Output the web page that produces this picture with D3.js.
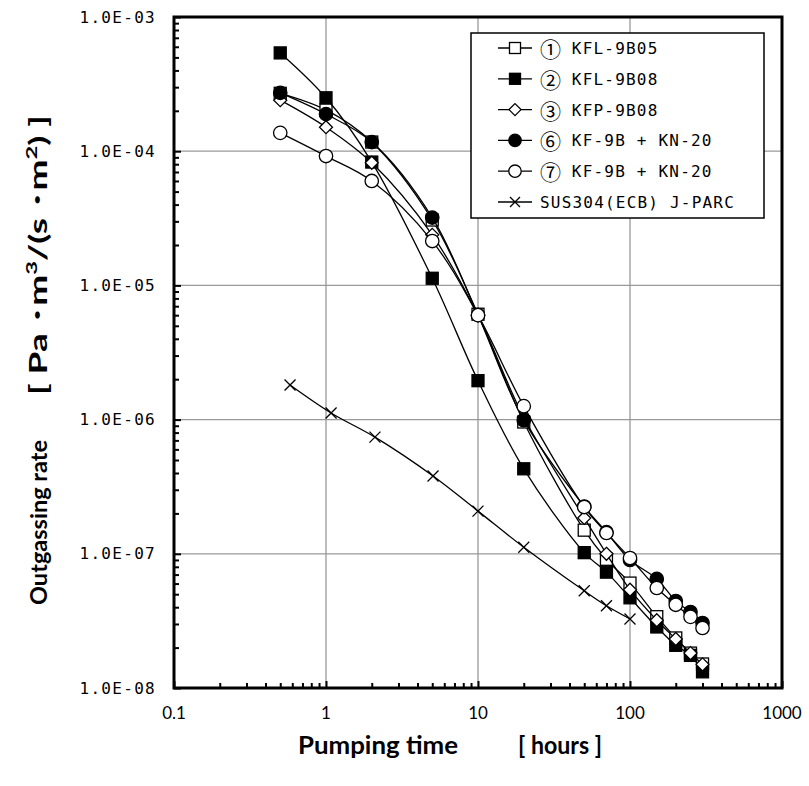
<!DOCTYPE html>
<html><head><meta charset="utf-8">
<script src="https://cdn.jsdelivr.net/npm/d3@7"></script>
<style>
body{margin:0;background:#fff;}
text{white-space:pre;}
</style></head>
<body>
<script>
const hours = [0.5, 1, 2, 5, 10, 20, 50, 70, 100, 150, 200, 250, 300];
const s1 = [2.7e-4, 2.03e-4, 1.17e-4, 3.07e-5, 6.1e-6, 9.6e-7, 1.5e-7, 9.1e-8, 6.05e-8, 3.4e-8, 2.36e-8, 1.82e-8, 1.51e-8];
const s2 = [5.4e-4, 2.5e-4, 8.3e-5, 1.13e-5, 1.95e-6, 4.3e-7, 1.02e-7, 7.3e-8, 4.7e-8, 2.85e-8, 2.08e-8, 1.75e-8, 1.32e-8];
const s3 = [2.4e-4, 1.51e-4, 8.2e-5, 2.38e-5, 6.0e-6, 1.04e-6, 1.85e-7, 1.0e-7, 5.4e-8, 3.2e-8, 2.32e-8, 1.82e-8, 1.5e-8];
const s6 = [2.72e-4, 1.89e-4, 1.17e-4, 3.2e-5, 6.0e-6, 9.9e-7, 2.25e-7, 1.45e-7, 9.0e-8, 6.5e-8, 4.45e-8, 3.68e-8, 3.05e-8];
const s7 = [1.37e-4, 9.2e-5, 6.0e-5, 2.14e-5, 6.0e-6, 1.26e-6, 2.23e-7, 1.43e-7, 9.3e-8, 5.56e-8, 4.17e-8, 3.39e-8, 2.8e-8];
const susHours = [0.58, 1.08, 2.1, 5.06, 10, 20, 50, 70, 100];
const susRate = [1.81e-6, 1.12e-6, 7.4e-7, 3.8e-7, 2.08e-7, 1.12e-7, 5.3e-8, 4.1e-8, 3.27e-8];
const seriesNums = ["①", "②", "③", "⑥", "⑦", ""];
const seriesNames = ["KFL-9B05", "KFL-9B08", "KFP-9B08", "KF-9B + KN-20", "KF-9B + KN-20", "SUS304(ECB) J-PARC"];
const seriesMarkers = ["squareOpen", "squareFilled", "diamondOpen", "circleFilled", "circleOpen", "cross"];
const xTicks = [0.1, 1, 10, 100, 1000];
const xTickLabels = ["0.1", "1", "10", "100", "1000"];
const yTicks = [1e-3, 1e-4, 1e-5, 1e-6, 1e-7, 1e-8];
const yTickLabels = ["1.0E-03", "1.0E-04", "1.0E-05", "1.0E-06", "1.0E-07", "1.0E-08"];

const series = [
  {num: seriesNums[0], name: seriesNames[0], marker: seriesMarkers[0], xs: hours, ys: s1},
  {num: seriesNums[1], name: seriesNames[1], marker: seriesMarkers[1], xs: hours, ys: s2},
  {num: seriesNums[2], name: seriesNames[2], marker: seriesMarkers[2], xs: hours, ys: s3},
  {num: seriesNums[3], name: seriesNames[3], marker: seriesMarkers[3], xs: hours, ys: s6},
  {num: seriesNums[4], name: seriesNames[4], marker: seriesMarkers[4], xs: hours, ys: s7},
  {num: seriesNums[5], name: seriesNames[5], marker: seriesMarkers[5], xs: susHours, ys: susRate}
];

const W = 809, H = 786;
const L = 174, R = 782, T = 17, B = 688;
const svg = d3.select("body").append("svg").attr("width", W).attr("height", H);
const x = d3.scaleLog().domain([0.1, 1000]).range([L, R]);
const y = d3.scaleLog().domain([1e-8, 1e-3]).range([B, T]);

// gridlines
const g = svg.append("g");
g.selectAll("line.vg").data(xTicks.slice(1, -1)).join("line")
  .attr("x1", d => x(d)).attr("x2", d => x(d)).attr("y1", T).attr("y2", B)
  .attr("stroke", "#999").attr("stroke-width", 1.3);
g.selectAll("line.hg").data(yTicks.slice(1, -1)).join("line")
  .attr("x1", L).attr("x2", R).attr("y1", d => y(d)).attr("y2", d => y(d))
  .attr("stroke", "#999").attr("stroke-width", 1.3);

// minor ticks (inside)
const xMinor = [];
for (let e = -1; e < 3; e++) for (let m = 2; m <= 9; m++) xMinor.push(m * Math.pow(10, e));
const yMinor = [];
for (let e = -8; e < -3; e++) for (let m = 2; m <= 9; m++) yMinor.push(m * Math.pow(10, e));
function styleAxis(a) {
  a.select(".domain").remove();
  a.selectAll("line").attr("stroke", "#000").attr("stroke-width", 2);
}
svg.append("g").attr("transform", `translate(0,${B})`)
  .call(d3.axisBottom(x).tickValues(xMinor).tickSize(-5).tickFormat("")).call(styleAxis);
svg.append("g").attr("transform", `translate(${L},0)`)
  .call(d3.axisLeft(y).tickValues(yMinor).tickSize(-5).tickFormat("")).call(styleAxis);
svg.append("g").attr("transform", `translate(0,${B})`)
  .call(d3.axisBottom(x).tickValues(xTicks).tickSize(-7).tickFormat("")).call(styleAxis);
svg.append("g").attr("transform", `translate(${L},0)`)
  .call(d3.axisLeft(y).tickValues(yTicks).tickSize(-7).tickFormat("")).call(styleAxis);

// tick labels
svg.append("g").selectAll("text").data(xTicks).join("text")
  .attr("x", d => x(d)).attr("y", 719).attr("text-anchor", "middle")
  .attr("font-family", "Lato, 'Liberation Sans', sans-serif").attr("font-size", 17)
  .text((d, i) => xTickLabels[i]);
svg.append("g").selectAll("text").data(yTicks).join("text")
  .attr("x", 156).attr("y", d => y(d)).attr("text-anchor", "end").attr("dominant-baseline", "central")
  .attr("font-family", "'DejaVu Sans Mono', monospace").attr("font-size", 16)
  .attr("letter-spacing", 1.3)
  .text((d, i) => yTickLabels[i]);

// lines and markers
const line = d3.line().x(d => x(d[0])).y(d => y(d[1])).curve(d3.curveCatmullRom.alpha(0.5));
function drawMarker(sel, type, cx, cy, s) {
  const h = s / 2;
  if (type === "squareOpen" || type === "squareFilled") {
    sel.append("rect").attr("x", cx - h).attr("y", cy - h).attr("width", s).attr("height", s)
      .attr("fill", type === "squareFilled" ? "#000" : "#fff").attr("stroke", "#000").attr("stroke-width", 1.3);
  } else if (type === "circleOpen" || type === "circleFilled") {
    sel.append("circle").attr("cx", cx).attr("cy", cy).attr("r", h + 0.7)
      .attr("fill", type === "circleFilled" ? "#000" : "#fff").attr("stroke", "#000").attr("stroke-width", 1.3);
  } else if (type === "diamondOpen") {
    const d = h + 0.5;
    sel.append("path").attr("d", `M${cx},${cy - d}L${cx + d},${cy}L${cx},${cy + d}L${cx - d},${cy}Z`)
      .attr("fill", "#fff").attr("stroke", "#000").attr("stroke-width", 1.3);
  } else if (type === "cross") {
    const d = h - 0.5;
    sel.append("path").attr("d", `M${cx - d},${cy - d}L${cx + d},${cy + d}M${cx - d},${cy + d}L${cx + d},${cy - d}`)
      .attr("fill", "none").attr("stroke", "#000").attr("stroke-width", 1.3);
  }
}
series.forEach(s => {
  const pts = s.xs.map((v, i) => [v, s.ys[i]]);
  const sg = svg.append("g");
  sg.append("path").attr("d", line(pts)).attr("fill", "none").attr("stroke", "#000").attr("stroke-width", 1.3);
  pts.forEach(p => drawMarker(sg, s.marker, x(p[0]), y(p[1]), 12));
});

// frame
svg.append("rect").attr("x", L).attr("y", T).attr("width", R - L).attr("height", B - T)
  .attr("fill", "none").attr("stroke", "#000").attr("stroke-width", 3);

// legend
const lg = svg.append("g");
lg.append("rect").attr("x", 471).attr("y", 33).attr("width", 293).attr("height", 185)
  .attr("fill", "#fff").attr("stroke", "#000").attr("stroke-width", 1.5);
series.forEach((s, i) => {
  const cy = 48 + i * 30.8;
  lg.append("line").attr("x1", 498).attr("x2", 532).attr("y1", cy).attr("y2", cy).attr("stroke", "#000").attr("stroke-width", 1.3);
  drawMarker(lg, s.marker, 515, cy, 11);
  const t = lg.append("text").attr("x", 540).attr("y", cy).attr("dominant-baseline", "central")
    .attr("font-family", "'DejaVu Sans Mono', monospace").attr("font-size", 16);
  if (s.num) {
    t.append("tspan").attr("font-family", "'Noto Sans CJK JP', sans-serif").attr("font-size", 21).text(s.num);
    t.append("tspan").attr("letter-spacing", 1.2).text(" " + s.name);
  } else {
    t.append("tspan").attr("letter-spacing", 1.2).text(s.name);
  }
});

// axis titles
const tf = "Lato, 'Noto Sans', 'Noto Sans CJK JP', sans-serif";
svg.append("text").attr("x", 298).attr("y", 754)
  .attr("font-family", tf).attr("font-weight", "bold").attr("font-size", 24)
  .attr("textLength", 160).attr("lengthAdjust", "spacingAndGlyphs").text("Pumping time");
svg.append("text").attr("x", 518).attr("y", 754)
  .attr("font-family", tf).attr("font-weight", "bold").attr("font-size", 24)
  .attr("textLength", 84).attr("lengthAdjust", "spacingAndGlyphs").text("[ hours ]");
svg.append("text").attr("transform", "translate(47,605) rotate(-90)")
  .attr("font-family", tf).attr("font-weight", "bold").attr("font-size", 23)
  .attr("textLength", 165).attr("lengthAdjust", "spacingAndGlyphs").text("Outgassing rate");
const yt = svg.append("text").attr("transform", "translate(47,395) rotate(-90)")
  .attr("font-family", tf).attr("font-weight", "bold").attr("font-size", 25)
  .attr("textLength", 280).attr("lengthAdjust", "spacingAndGlyphs");
yt.append("tspan").text("[ Pa ･m");
yt.append("tspan").attr("dy", -10).attr("font-size", 16).text("3");
yt.append("tspan").attr("dy", 10).text("/(s ･m");
yt.append("tspan").attr("dy", -10).attr("font-size", 16).text("2");
yt.append("tspan").attr("dy", 10).text(") ]");
</script>
</body></html>
